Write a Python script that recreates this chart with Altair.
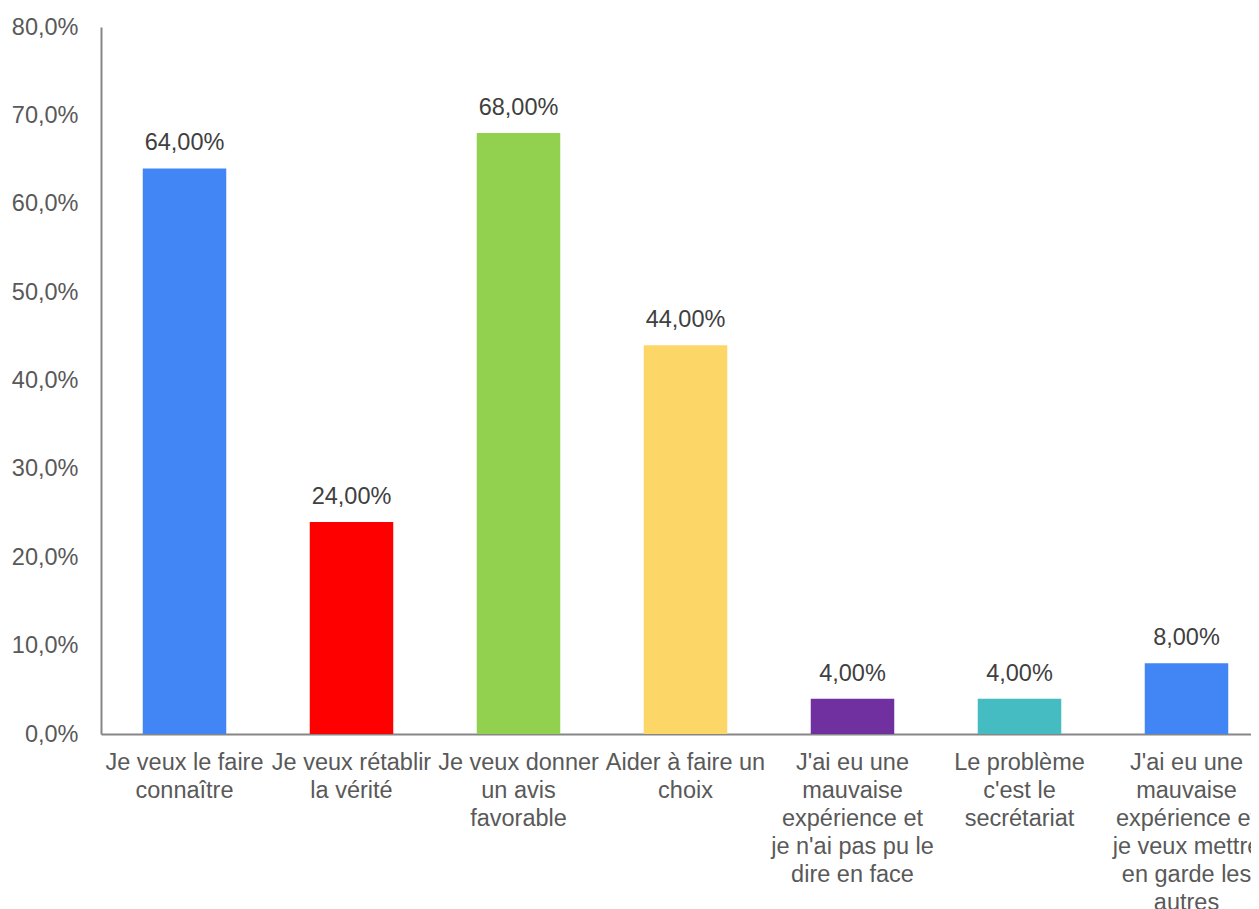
import altair as alt
import pandas as pd

categories = [
    "Je veux le faire|connaître",
    "Je veux rétablir|la vérité",
    "Je veux donner|un avis|favorable",
    "Aider à faire un|choix",
    "J'ai eu une|mauvaise|expérience et|je n'ai pas pu le|dire en face",
    "Le problème|c'est le|secrétariat",
    "J'ai eu une|mauvaise|expérience et|je veux mettre|en garde les|autres",
]
values = [0.64, 0.24, 0.68, 0.44, 0.04, 0.04, 0.08]
labels = ["64,00%", "24,00%", "68,00%", "44,00%", "4,00%", "4,00%", "8,00%"]
colors = ["#4285F4", "#FF0000", "#92D050", "#FCD767", "#7030A0", "#45BBC2", "#4285F4"]

df = pd.DataFrame({"cat": categories, "val": values, "lab": labels, "col": colors})

FONT = "Liberation Sans"

x = alt.X(
    "cat:N",
    sort=categories,
    title=None,
    scale=alt.Scale(range=[0, 1169], paddingInner=0.5, paddingOuter=0.25),
    axis=alt.Axis(
        labelAngle=0,
        labelExpr="split(datum.label, '|')",
        labelFont=FONT,
        labelFontSize=23.5,
        labelColor="#595959",
        labelLineHeight=28,
        labelPadding=16,
        labelLimit=400,
        tickSize=0,
        domainColor="#868686",
        domainWidth=2,
        labelBaseline="top",
    ),
)

y = alt.Y(
    "val:Q",
    title=None,
    scale=alt.Scale(domain=[0, 0.8], nice=False),
    axis=alt.Axis(
        values=[0, 0.1, 0.2, 0.3, 0.4, 0.5, 0.6, 0.7, 0.8],
        labelExpr="replace(format(datum.value*100, '.1f'), '.', ',') + '%'",
        labelFont=FONT,
        labelFontSize=23.5,
        labelColor="#595959",
        labelPadding=23,
        tickSize=0,
        grid=False,
        domainColor="#868686",
        domainWidth=2,
    ),
)

bars = alt.Chart(df).mark_bar().encode(
    x=x,
    y=y,
    color=alt.Color("col:N", scale=None),
)

text = alt.Chart(df).mark_text(
    font=FONT, fontSize=23.5, color="#404040", dy=-25, baseline="middle"
).encode(
    x=alt.X("cat:N", sort=categories),
    y=alt.Y("val:Q"),
    text="lab:N",
)

chart = (
    alt.layer(bars, text)
    .properties(
        width=1150,
        height=707,
        background="white",
        autosize=alt.AutoSizeParams(type="none"),
        padding={"left": 93, "top": 19, "right": 0, "bottom": 175},
    )
    .configure_view(strokeWidth=0, stroke="transparent")
    .configure_axis(grid=False)
)

chart.save("out.html", embed_options={"renderer": "svg", "actions": False})
